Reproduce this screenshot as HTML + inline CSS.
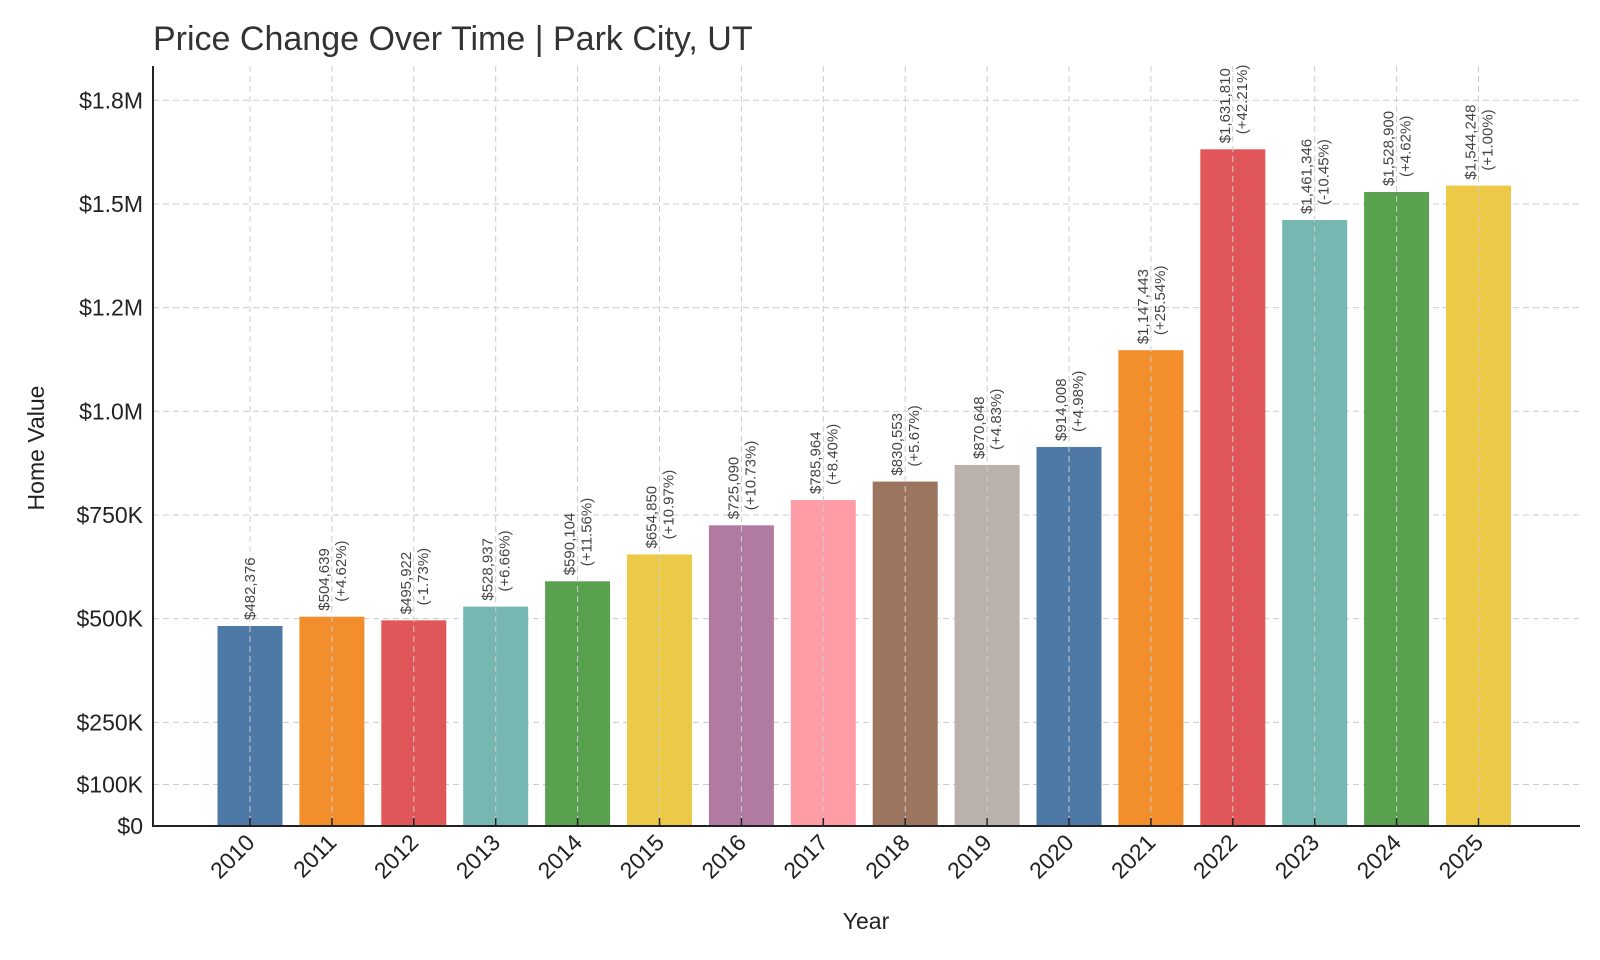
<!DOCTYPE html>
<html><head><meta charset="utf-8"><style>
body{margin:0;background:#fff;}
svg{display:block;font-family:"Liberation Sans","DejaVu Sans",sans-serif;}
</style></head><body>
<svg id="chart" width="1600" height="960" viewBox="0 0 1600 960">
<text x="153" y="50" font-size="34" fill="#333">Price Change Over Time | Park City, UT</text>
<g id="grid"></g><g id="bars"></g><g id="labels"></g><g id="axes"></g>
<text transform="translate(44,448) rotate(-90)" text-anchor="middle" font-size="23" fill="#222">Home Value</text>
<text x="866" y="929" text-anchor="middle" font-size="23" fill="#222">Year</text>
</svg>
<script>
const years=["2010","2011","2012","2013","2014","2015","2016","2017","2018","2019","2020","2021","2022","2023","2024","2025"];
const values=[482376,504639,495922,528937,590104,654850,725090,785964,830553,870648,914008,1147443,1631810,1461346,1528900,1544248];
const changes=[null,"+4.62%","-1.73%","+6.66%","+11.56%","+10.97%","+10.73%","+8.40%","+5.67%","+4.83%","+4.98%","+25.54%","+42.21%","-10.45%","+4.62%","+1.00%"];
const tickValues=[0,100000,250000,500000,750000,1000000,1250000,1500000,1750000];
const tickLabels=["$0","$100K","$250K","$500K","$750K","$1.0M","$1.2M","$1.5M","$1.8M"];
const colors=["#4e79a7","#f28e2b","#e15759","#76b7b2","#59a14f","#edc948","#b07aa1","#ff9da7","#9c755f","#bab0ac"];
const NS="http://www.w3.org/2000/svg";
const x0=153,x1=1580,yBase=826,yTop=66;
const y=v=>yBase-v*0.0004147;
const xc=i=>250+i*81.9;
const bw=65;
function mk(tag,attrs,parent,text){const e=document.createElementNS(NS,tag);for(const k in attrs)e.setAttribute(k,attrs[k]);if(text!=null)e.textContent=text;document.getElementById(parent).appendChild(e);return e;}
const fmt=v=>"$"+v.toLocaleString("en-US");
tickValues.forEach((t,i)=>{
  const g=mk("line",{x1:x0,x2:x1,y1:y(t),y2:y(t),stroke:"#ccc","stroke-dasharray":"6,4","stroke-width":1},"grid");
  
  
  const l=mk("text",{x:x0-10,y:y(t)+8,"text-anchor":"end","font-size":23,fill:"#222"},"axes",tickLabels[i]);
  
  
});
years.forEach((yr,i)=>{
  const cx=xc(i);
  const b=mk("rect",{x:cx-bw/2,y:y(values[i]),width:bw,height:yBase-y(values[i]),fill:colors[i%colors.length]},"bars");
  
  
  const g=mk("line",{x1:cx,x2:cx,y1:yTop,y2:yBase,stroke:"#ccc","stroke-dasharray":"6,4","stroke-width":1},"labels");
  
  
  const tk=mk("line",{x1:cx,x2:cx,y1:yBase-8,y2:yBase,stroke:"#222","stroke-width":1.5},"axes");
  
  
  const xl=mk("text",{transform:`translate(${cx+6},${yBase+18}) rotate(-45)`,"text-anchor":"end","font-size":23,fill:"#222"},"axes",yr);
  
  
  const top=y(values[i])-6;
  if(changes[i]==null){
    const a=mk("text",{transform:`translate(${cx+5},${top}) rotate(-90)`,"font-size":15,fill:"#444"},"labels",fmt(values[i]));
    
    
  }else{
    const a=mk("text",{transform:`translate(${cx-3},${top}) rotate(-90)`,"font-size":15,fill:"#444"},"labels",fmt(values[i]));
    
    
    const c=mk("text",{transform:`translate(${cx+14},${top-9}) rotate(-90)`,"font-size":15,fill:"#444"},"labels","("+changes[i]+")");
    
    
  }
});
const ax=mk("path",{d:`M${x0},${yTop} V${yBase} H${x1}`,fill:"none",stroke:"#222","stroke-width":2},"axes");


</script>
</body></html>
